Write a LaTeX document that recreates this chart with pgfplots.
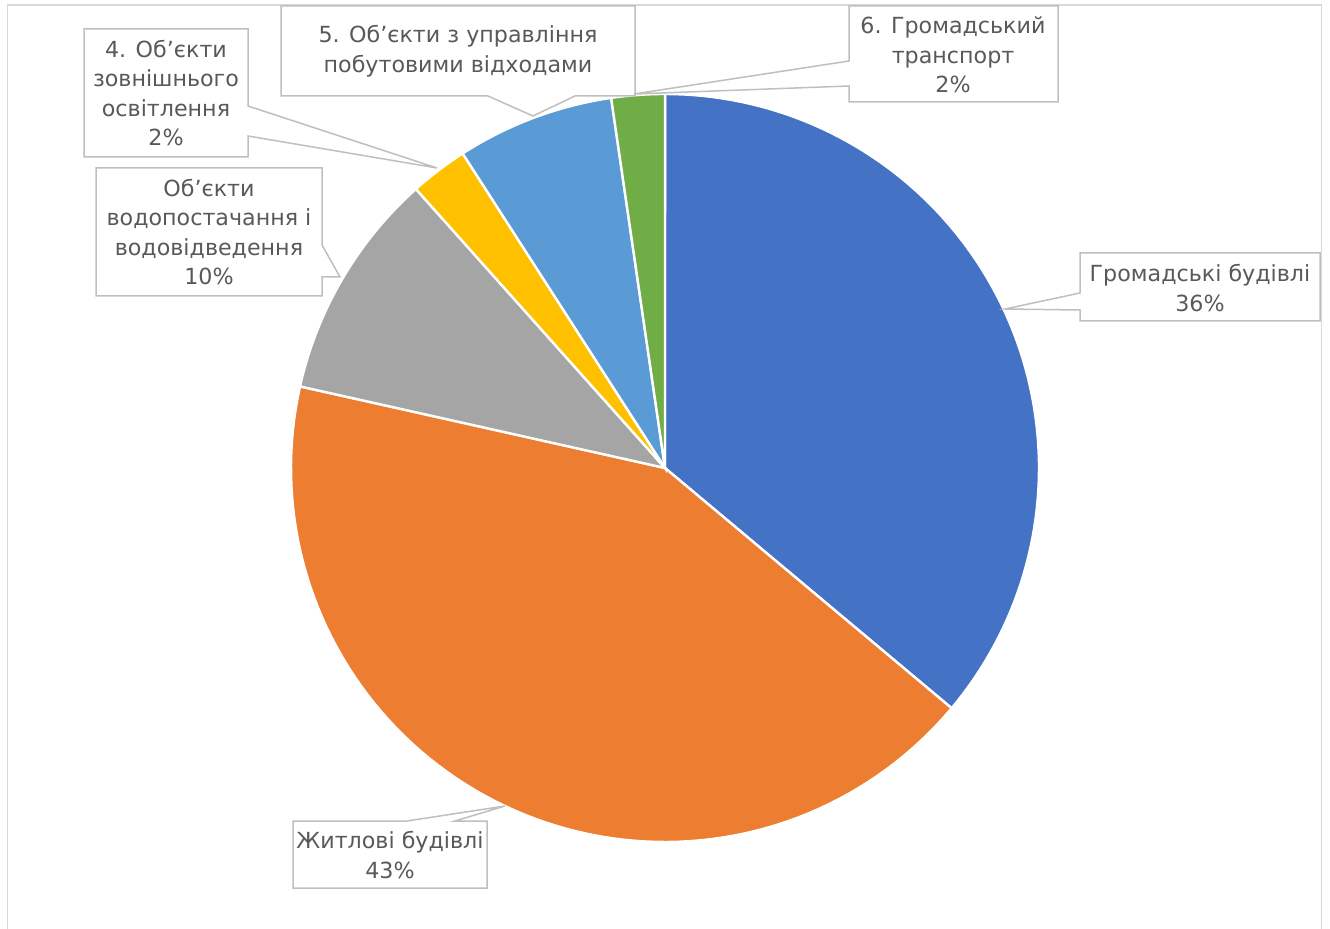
\documentclass[border=0pt]{standalone}
\usepackage{pgfplots}
\pgfplotsset{compat=1.18}
\usepackage{fontspec}
\setmainfont{DejaVu Sans}
\definecolor{c1}{HTML}{4472C4}
\definecolor{c2}{HTML}{ED7D31}
\definecolor{c3}{HTML}{A5A5A5}
\definecolor{c4}{HTML}{FFC000}
\definecolor{c5}{HTML}{5B9BD5}
\definecolor{c6}{HTML}{70AD47}
\definecolor{lbl}{HTML}{595959}
\definecolor{bx}{HTML}{BFBFBF}
\definecolor{outerc}{HTML}{D9D9D9}
% slice: start cumulative %, end cumulative %, colour
\newcommand{\slice}[3]{%
  \pgfmathsetmacro{\aS}{90-3.6*#2}%
  \pgfmathsetmacro{\aE}{90-3.6*#1}%
  \addplot[fill=#3, draw=white, line width=1.2pt, domain=\aS:\aE, samples=90]
    ({665+374*cos(x)},{460+374*sin(x)}) -- (axis cs:665,460) -- cycle;
}
\tikzset{lab/.style={text=lbl, align=center, inner sep=0pt, font=\fontsize{11.1}{14.75}\selectfont}}
\begin{document}
\begin{tikzpicture}
\begin{axis}[scale only axis, width=665pt, height=464pt,
  xmin=0, xmax=1330, ymin=0, ymax=928, hide axis, clip=false,
  anchor=south west, at={(0,0)}]
\draw[outerc, line width=0.6pt] (axis cs:7.5,-20) -- (axis cs:7.5,923) -- (axis cs:1321.5,923) -- (axis cs:1321.5,-20);
% shares (%): 36.1, 42.4, 9.9, 2.5, 6.8, 2.3
\slice{0}{36.1}{c1}
\slice{36.1}{78.5}{c2}
\slice{78.5}{88.4}{c3}
\slice{88.4}{90.9}{c4}
\slice{90.9}{97.7}{c5}
\slice{97.7}{100}{c6}
% callouts
\draw[bx, line width=0.75pt, fill=white] (axis cs:84,899) -- (axis cs:248,899) -- (axis cs:248,822) -- (axis cs:437,760) -- (axis cs:248,792) -- (axis cs:248,771) -- (axis cs:84,771) -- cycle;
\node[lab] at (axis cs:166,835) {4. Об’єкти\\зовнішнього\\освітлення\\2\%};
\draw[bx, line width=0.75pt, fill=white] (axis cs:281,922) -- (axis cs:635,922) -- (axis cs:635,832) -- (axis cs:575,832) -- (axis cs:533,812) -- (axis cs:488,832) -- (axis cs:281,832) -- cycle;
\node[lab] at (axis cs:458,877) {5. Об’єкти з управління\\побутовими відходами};
\draw[bx, line width=0.75pt, fill=white] (axis cs:849,922) -- (axis cs:1058,922) -- (axis cs:1058,826) -- (axis cs:849,826) -- (axis cs:849,842) -- (axis cs:634,834) -- (axis cs:849,867) -- cycle;
\node[lab] at (axis cs:953,873) {6. Громадський\\транспорт\\2\%};
\draw[bx, line width=0.75pt, fill=white] (axis cs:96,760) -- (axis cs:322,760) -- (axis cs:322,683) -- (axis cs:340,651) -- (axis cs:322,651) -- (axis cs:322,632) -- (axis cs:96,632) -- cycle;
\node[lab] at (axis cs:209,696) {Об’єкти\\водопостачання і\\водовідведення\\10\%};
\draw[bx, line width=0.75pt, fill=white] (axis cs:1080,675) -- (axis cs:1320,675) -- (axis cs:1320,607) -- (axis cs:1080,607) -- (axis cs:1080,618) -- (axis cs:1005,619) -- (axis cs:1080,635) -- cycle;
\node[lab] at (axis cs:1200,640) {Громадські будівлі\\36\%};
\draw[bx, line width=0.75pt, fill=white] (axis cs:293,107) -- (axis cs:407,107) -- (axis cs:505,122) -- (axis cs:455,107) -- (axis cs:487,107) -- (axis cs:487,40) -- (axis cs:293,40) -- cycle;
\node[lab] at (axis cs:390,73) {Житлові будівлі\\43\%};
\end{axis}
\pgfresetboundingbox
\path[use as bounding box] (0,0) rectangle (665pt,464pt);
\end{tikzpicture}
\end{document}
